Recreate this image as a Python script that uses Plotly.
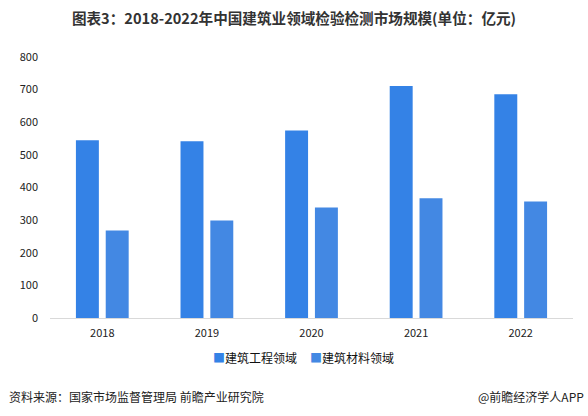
import plotly.graph_objects as go

years = ["2018", "2019", "2020", "2021", "2022"]
engineering = [545, 542, 575, 711, 686]
materials = [268, 299, 339, 367, 357]
series_names = ["建筑工程领域", "建筑材料领域"]
colors = ["#3482e6", "#4388e3"]

FONT = "Noto Sans CJK SC, Microsoft YaHei, sans-serif"

fig = go.Figure()
fig.add_trace(go.Bar(x=years, y=engineering, name=series_names[0],
                     marker=dict(color=colors[0], line=dict(width=0))))
fig.add_trace(go.Bar(x=years, y=materials, name=series_names[1],
                     marker=dict(color=colors[1], line=dict(width=0))))

fig.update_layout(
    width=588, height=416,
    margin=dict(l=50, r=15, t=57, b=98),
    paper_bgcolor="white", plot_bgcolor="white",
    barmode="group", bargap=0.43, bargroupgap=0.23,
    font=dict(family=FONT, size=11, color="#222"),
    title=dict(text="<b>图表3：2018-2022年中国建筑业领域检验检测市场规模(单位：亿元)</b>",
               x=0.5, xanchor="center", y=1 - 19/416, yanchor="middle",
               font=dict(family=FONT, size=14.6, color="#333")),
    xaxis=dict(showline=True, linecolor="#d9d9d9", linewidth=1, ticks="",
               showgrid=False, tickfont=dict(size=11, color="#222"),
               ticklabelstandoff=5),
    yaxis=dict(range=[0, 800], dtick=100, showgrid=False, zeroline=False,
               showline=False, ticks="", tickfont=dict(size=11, color="#222"),
               ticklabelstandoff=11),
    showlegend=False,
)

# compact legend (symbol directly next to text, as in the reference)
legend_y = (318 - 357) / 261
legend_x = [(211 - 50) / 523, (308 - 50) / 523]
for name, col, lx in zip(series_names, colors, legend_x):
    fig.add_annotation(text=f"<span style='color:{col}'>■</span>{name}",
                       xref="paper", yref="paper", x=lx, xanchor="left",
                       y=legend_y, yanchor="middle", showarrow=False,
                       font=dict(size=12, color="#111"))

fig.add_annotation(text="资料来源：国家市场监督管理局 前瞻产业研究院", xref="paper", yref="paper",
                   x=-43/523, xanchor="left", y=(318-396)/261, yanchor="middle",
                   showarrow=False, font=dict(size=12, color="#222"))
fig.add_annotation(text="@前瞻经济学人APP", xref="paper", yref="paper",
                   x=(586-50)/523, xanchor="right", y=(318-396)/261, yanchor="middle",
                   showarrow=False, font=dict(size=12, color="#222"))

fig.write_html("out.html")
